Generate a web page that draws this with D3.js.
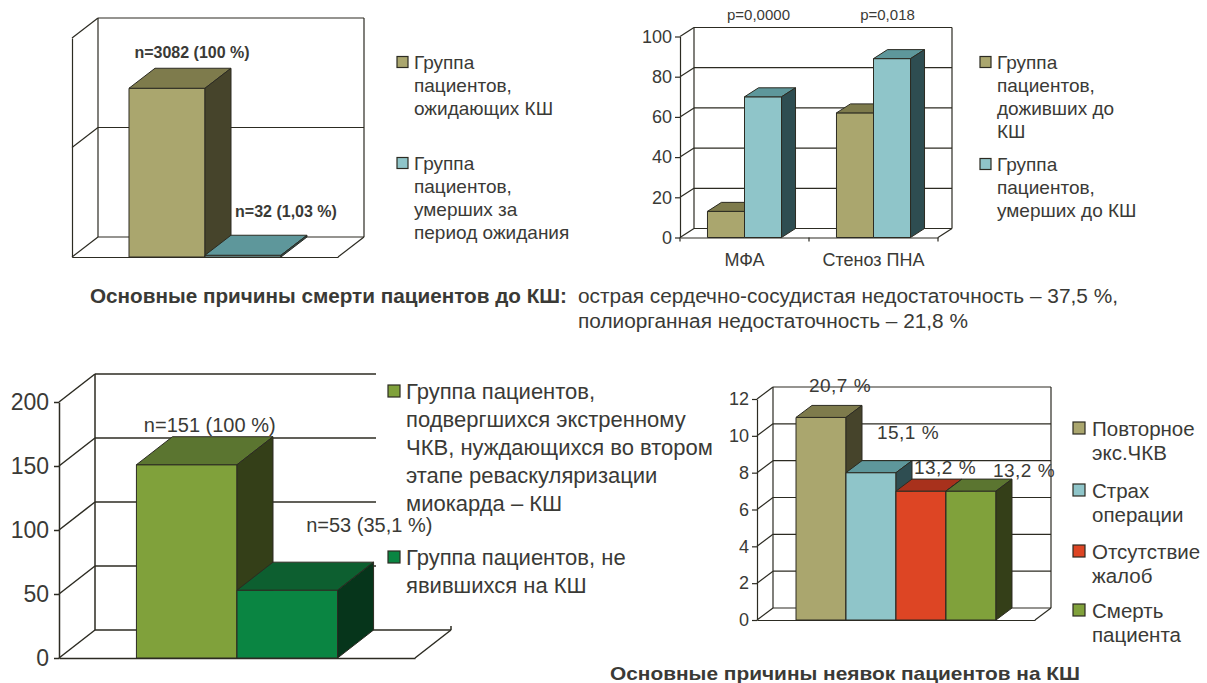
<!DOCTYPE html>
<html lang="ru">
<head>
<meta charset="utf-8">
<script src="https://cdn.jsdelivr.net/npm/d3@7/dist/d3.min.js"></script>
<style>
  html, body { margin: 0; padding: 0; background: #fff; }
  svg { display: block; }
  text { font-family: "Liberation Sans", Arial, Helvetica, sans-serif; fill: #3a3a36; }
</style>
</head>
<body>
<svg id="chart" width="1207" height="683"></svg>
<script>
// ---------------- data ----------------
// 1. Patients on the CABG waiting list
const waitingCategories = ["Лист ожидания"];
const waitingSeries = [
  ["Группа", "пациентов,", "ожидающих КШ"],
  ["Группа", "пациентов,", "умерших за", "период ожидания"]
];
const waitingValues = [[3082, 32]];
const waitingLabels = [["n=3082 (100 %)", "n=32 (1,03 %)"]];
const waitingTicks = [0, 2000, 4000];

// 2. Survived vs. died before CABG, by lesion type
const lesionCategories = ["МФА", "Стеноз ПНА"];
const lesionSeries = [
  ["Группа", "пациентов,", "доживших до", "КШ"],
  ["Группа", "пациентов,", "умерших до КШ"]
];
const lesionValues = [[13, 70], [62, 89]];
const lesionPValues = ["p=0,0000", "p=0,018"];
const lesionTicks = [0, 20, 40, 60, 80, 100];

// 3. Emergency PCI patients needing staged CABG
const pciCategories = ["ЧКВ"];
const pciSeries = [
  ["Группа пациентов,", "подвергшихся экстренному", "ЧКВ, нуждающихся во втором", "этапе реваскуляризации", "миокарда – КШ"],
  ["Группа пациентов, не", "явившихся на КШ"]
];
const pciValues = [[151, 53]];
const pciLabels = [["n=151 (100 %)", "n=53 (35,1 %)"]];
const pciTicks = [0, 50, 100, 150, 200];

// 4. Reasons patients did not show up for CABG
const reasonCategories = ["Причины"];
const reasonSeries = [["Повторное", "экс.ЧКВ"], ["Страх", "операции"], ["Отсутствие", "жалоб"], ["Смерть", "пациента"]];
const reasonValues = [[11, 8, 7, 7]];
const reasonLabels = [["20,7 %", "15,1 %", "13,2 %", "13,2 %"]];
const reasonTicks = [0, 2, 4, 6, 8, 10, 12];

// Captions
const deathCauseTitle = "Основные причины смерти пациентов до КШ:";
const deathCauseLines = ["острая сердечно-сосудистая недостаточность – 37,5 %,", "полиорганная недостаточность – 21,8 %"];
const absenceTitle = "Основные причины неявок пациентов на КШ";

// ---------------- styles ----------------
const INK = "#2c2b22";
const shades = {
  olive: { front: "#aaa66e", top: "#7e7b4c", side: "#46442b" },
  aqua:  { front: "#8fc5c9", top: "#5e979b", side: "#2e4d51" },
  lime:  { front: "#80a13b", top: "#5b7530", side: "#343f18" },
  green: { front: "#0a8542", top: "#0d5f30", side: "#06351b" },
  red:   { front: "#dd4524", top: "#a8311c", side: "#6b1e10" }
};

const svg = d3.select("#chart");

// Draws a pseudo-3D clustered column chart: walls, floor, axis and boxes.
function drawPanel(cfg) {
  const g = svg.append("g");
  const nS = cfg.colors.length;
  const x = d3.scaleBand().domain(cfg.categories)
    .range([cfg.x0, cfg.x1]).paddingInner(cfg.pad).paddingOuter(cfg.pad / 2);
  const xs = d3.scaleBand().domain(d3.range(nS)).range([0, x.bandwidth()]);
  const y = d3.scaleLinear().domain([0, cfg.max]).range([cfg.y0, cfg.yTop]);
  const dx = cfg.dx, dy = cfg.dy;

  // back wall, side wall and floor
  const walls = g.append("g").attr("fill", "none").attr("stroke", INK).attr("stroke-width", cfg.sw);
  walls.selectAll("line.grid").data(cfg.ticks).join("line").attr("class", "grid")
    .attr("x1", cfg.x0 + dx).attr("x2", cfg.x1 + dx)
    .attr("y1", d => y(d) + dy).attr("y2", d => y(d) + dy);
  walls.selectAll("line.diag").data(cfg.ticks).join("line").attr("class", "diag")
    .attr("x1", cfg.x0).attr("y1", d => y(d))
    .attr("x2", cfg.x0 + dx).attr("y2", d => y(d) + dy);
  walls.selectAll("line.edge").data([cfg.x0 + dx, cfg.x1 + dx]).join("line").attr("class", "edge")
    .attr("x1", d => d).attr("x2", d => d)
    .attr("y1", y(cfg.max) + dy).attr("y2", y(0) + dy);
  walls.append("line")
    .attr("x1", cfg.x1).attr("y1", y(0)).attr("x2", cfg.x1 + dx).attr("y2", y(0) + dy);

  // legend box background sitting over the back wall
  if (cfg.legendBox) {
    g.append("rect").attr("x", cfg.legendBox[0]).attr("y", cfg.legendBox[1])
      .attr("width", cfg.legendBox[2]).attr("height", cfg.legendBox[3]).attr("fill", "#fff");
  }

  // front value axis
  const yAxis = d3.axisLeft(y).tickValues(cfg.ticks).tickSizeInner(cfg.tickSize)
    .tickSizeOuter(0).tickPadding(cfg.tickPad)
    .tickFormat(cfg.tickLabels ? d3.format("d") : () => "");
  const ya = g.append("g").attr("transform", `translate(${cfg.x0},0)`).call(yAxis);
  ya.selectAll("path, line").attr("stroke", INK).attr("stroke-width", cfg.sw);
  ya.selectAll("text").attr("font-size", cfg.tickFont).attr("fill", "#3a3a36");
  ya.attr("font-family", null);

  // floor front edge / category axis
  const xAxis = d3.axisBottom(x).tickSize(0).tickPadding(cfg.catPad || 0)
    .tickFormat(cfg.catLabels ? d => d : () => "");
  const xa = g.append("g").attr("transform", `translate(0,${cfg.y0})`).call(xAxis);
  xa.select(".domain").attr("stroke", INK).attr("stroke-width", cfg.sw);
  xa.selectAll("text").attr("font-size", cfg.catFont).attr("fill", "#3a3a36");
  xa.attr("font-family", null);
  if (cfg.catTicks) {
    xa.selectAll("line.sep").data(d3.range(cfg.categories.length + 1)).join("line").attr("class", "sep")
      .attr("x1", i => cfg.x0 + i * x.step()).attr("x2", i => cfg.x0 + i * x.step())
      .attr("y1", 0).attr("y2", 4).attr("stroke", INK).attr("stroke-width", cfg.sw);
  }

  // columns
  const bars = cfg.values.flatMap((row, ci) => row.map((v, si) => ({ ci, si, v, cat: cfg.categories[ci] })));
  const bg = g.append("g").attr("stroke", INK).attr("stroke-width", 1).attr("stroke-linejoin", "round");
  const col = bg.selectAll("g.col").data(bars).join("g").attr("class", "col");
  const geo = b => {
    const bx = x(b.cat) + xs(b.si), bw = xs.bandwidth(), by = y(b.v), base = y(0);
    return { bx, bw, by, base };
  };
  col.append("rect")
    .attr("x", b => geo(b).bx).attr("y", b => geo(b).by)
    .attr("width", b => geo(b).bw).attr("height", b => geo(b).base - geo(b).by)
    .attr("fill", b => cfg.colors[b.si].front);
  col.append("path").attr("fill", b => cfg.colors[b.si].top)
    .attr("d", b => { const { bx, bw, by } = geo(b);
      return `M${bx},${by}L${bx + dx},${by + dy}L${bx + bw + dx},${by + dy}L${bx + bw},${by}Z`; });
  col.append("path").attr("fill", b => cfg.colors[b.si].side)
    .attr("d", b => { const { bx, bw, by, base } = geo(b);
      return `M${bx + bw},${by}L${bx + bw + dx},${by + dy}L${bx + bw + dx},${base + dy}L${bx + bw},${base}Z`; });

  // value labels
  if (cfg.labels) {
    g.append("g").selectAll("text").data(bars).join("text")
      .attr("x", b => { const { bx, bw } = geo(b); return bx + bw / 2 + dx + cfg.nudge[b.ci * nS + b.si][0]; })
      .attr("y", b => geo(b).by + dy - 12 + cfg.nudge[b.ci * nS + b.si][1])
      .attr("text-anchor", "middle").attr("dominant-baseline", "central")
      .attr("font-size", cfg.labelFont).attr("font-weight", cfg.labelWeight || "normal")
      .attr("letter-spacing", cfg.labelSpacing || 0)
      .text(b => cfg.labels[b.ci][b.si]);
  }

  // per-category annotations above the plot
  if (cfg.notes) {
    g.append("g").selectAll("text").data(cfg.categories).join("text")
      .attr("x", d => x(d) + x.bandwidth() / 2 + dx)
      .attr("y", y(cfg.max) + dy - 13)
      .attr("text-anchor", "middle").attr("dominant-baseline", "central")
      .attr("font-size", cfg.noteFont)
      .text((d, i) => cfg.notes[i]);
  }
  return g;
}

function drawLegend(series, colors, lg) {
  const grp = svg.append("g");
  series.forEach((lines, i) => {
    const yc = lg.ys[i];
    grp.append("rect").attr("x", lg.sx).attr("y", yc - lg.sq / 2)
      .attr("width", lg.sq).attr("height", lg.sq)
      .attr("fill", colors[i].front).attr("stroke", INK).attr("stroke-width", 1.2);
    grp.append("g").selectAll("text").data(lines).join("text")
      .attr("x", lg.tx).attr("y", (d, j) => yc + j * lg.lh)
      .attr("dominant-baseline", "central").attr("font-size", lg.fs)
      .text(d => d);
  });
}

// ---------------- panels ----------------
const waitingColors = [shades.olive, shades.aqua];
drawPanel({
  categories: waitingCategories, values: waitingValues, colors: waitingColors, ticks: waitingTicks,
  x0: 72, x1: 338, y0: 257, yTop: 38, max: 4000, dx: 26, dy: -20, pad: 0.4286, sw: 1.2,
  tickSize: 0, tickPad: 0, tickLabels: false, tickFont: 12,
  labels: waitingLabels, labelFont: 16, labelWeight: "bold",
  nudge: [[-1, -4], [17, -12]]
});
drawLegend(waitingSeries, waitingColors, { sx: 397, sq: 11, tx: 414, ys: [62, 163], lh: 23.3, fs: 19 });

const lesionColors = [shades.olive, shades.aqua];
drawPanel({
  categories: lesionCategories, values: lesionValues, colors: lesionColors, ticks: lesionTicks,
  x0: 680, x1: 938, y0: 237.5, yTop: 36.5, max: 100, dx: 14, dy: -9, pad: 0.426, sw: 1.2,
  tickSize: 5, tickPad: 3, tickLabels: true, tickFont: 18,
  catLabels: true, catPad: 16, catFont: 18, catTicks: true,
  notes: lesionPValues, noteFont: 15
});
drawLegend(lesionSeries, lesionColors, { sx: 980, sq: 11, tx: 997, ys: [62, 164], lh: 23.3, fs: 19 });

const pciColors = [shades.lime, shades.green];
drawPanel({
  categories: pciCategories, values: pciValues, colors: pciColors, ticks: pciTicks,
  x0: 59, x1: 415, y0: 658, yTop: 402, max: 200, dx: 36, dy: -28, pad: 0.435, sw: 1.5,
  tickSize: 5, tickPad: 5, tickLabels: true, tickFont: 23,
  labels: pciLabels, labelFont: 20,
  nudge: [[-13, 0], [46, -25]],
  legendBox: [376, 368, 336, 258]
});
drawLegend(pciSeries, pciColors, { sx: 388, sq: 12, tx: 406, ys: [391, 557], lh: 28, fs: 22 });

const reasonColors = [shades.olive, shades.aqua, shades.red, shades.lime];
drawPanel({
  categories: reasonCategories, values: reasonValues, colors: reasonColors, ticks: reasonTicks,
  x0: 757, x1: 1035, y0: 620, yTop: 399, max: 12, dx: 16, dy: -12, pad: 0.2806, sw: 1.2,
  tickSize: 5, tickPad: 3, tickLabels: true, tickFont: 18,
  labels: reasonLabels, labelFont: 19, labelSpacing: 0.5,
  nudge: [[3, -8], [21, -16], [8, 0], [37, 3]]
});
drawLegend(reasonSeries, reasonColors, { sx: 1073, sq: 12, tx: 1092, ys: [428, 490, 551, 610], lh: 24, fs: 20.5 });

// ---------------- captions ----------------
const cap = svg.append("g");
cap.append("text").attr("x", 90).attr("y", 296).attr("dominant-baseline", "central")
  .attr("font-size", 20).attr("font-weight", "bold").attr("fill", "#2b2a22")
  .attr("textLength", 477).attr("lengthAdjust", "spacingAndGlyphs").text(deathCauseTitle);
cap.selectAll("text.cause").data(deathCauseLines).join("text").attr("class", "cause")
  .attr("x", 578).attr("y", (d, i) => 296 + i * 25).attr("dominant-baseline", "central")
  .attr("font-size", 20).attr("fill", "#2b2a22")
  .attr("textLength", (d, i) => [540, 390][i]).attr("lengthAdjust", "spacingAndGlyphs")
  .text(d => d);
cap.append("text").attr("x", 610).attr("y", 673).attr("dominant-baseline", "central")
  .attr("font-size", 19).attr("font-weight", "bold").attr("fill", "#2b2a22")
  .attr("textLength", 470).attr("lengthAdjust", "spacingAndGlyphs").text(absenceTitle);
</script>
</body>
</html>
